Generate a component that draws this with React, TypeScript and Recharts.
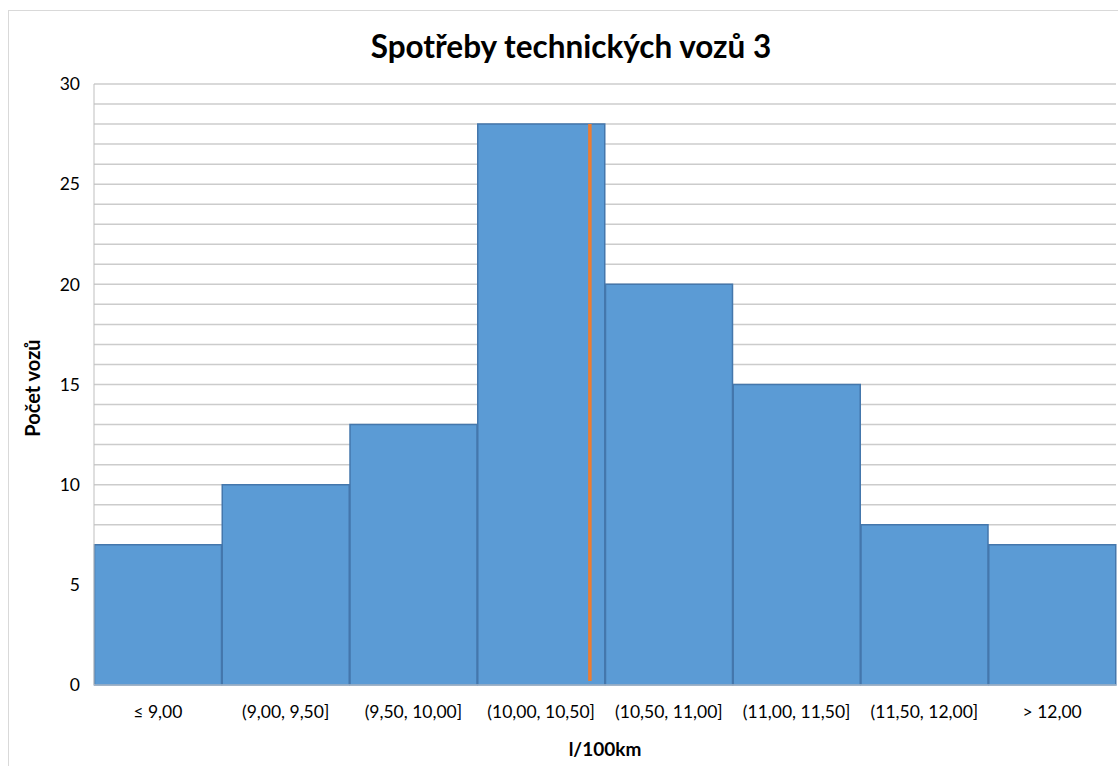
import React from 'react';
import { ComposedChart, Bar, XAxis, YAxis, CartesianGrid, Rectangle } from 'recharts';

const categories = ['≤ 9,00', '(9,00, 9,50]', '(9,50, 10,00]', '(10,00, 10,50]', '(10,50, 11,00]', '(11,00, 11,50]', '(11,50, 12,00]', '> 12,00'];
const counts = [7, 10, 13, 28, 20, 15, 8, 7];
const binStarts = [8.5, 9.0, 9.5, 10.0, 10.5, 11.0, 11.5, 12.0];
const binWidth = 0.5;
const yTicks = [0, 5, 10, 15, 20, 25, 30];
const gridValues = [0, 1, 2, 3, 4, 5, 6, 7, 8, 9, 10, 11, 12, 13, 14, 15, 16, 17, 18, 19, 20, 21, 22, 23, 24, 25, 26, 27, 28, 29, 30];
const meanValue = 10.44;

const data = categories.map((c, i) => ({ name: c, count: counts[i], start: binStarts[i] }));

const FONT = 'Lato, "Open Sans", sans-serif';

const BarShape = (props: any) => {
  const { x, y, width, height, payload } = props;
  const hasMean = meanValue > payload.start && meanValue <= payload.start + binWidth;
  const mx = x + ((meanValue - payload.start) / binWidth) * width;
  return (
    <g>
      <Rectangle x={x + 0.5} y={y} width={width - 1} height={height} fill="#5B9BD5" stroke="#4477AC" strokeWidth={1.5} />
      {hasMean && <line x1={mx} x2={mx} y1={y} y2={y + height - 4} stroke="#ED7D31" strokeWidth={3.5} />}
    </g>
  );
};

export default function App() {
  return (
    <div style={{ position: 'fixed', left: 0, top: 0, width: 1118, height: 766, overflow: 'hidden', background: '#fff' }}>
      <div style={{ position: 'absolute', left: 8, top: 10, width: 1140, height: 820, border: '1px solid #d9d9d9', boxSizing: 'border-box' }} />
      <div style={{ position: 'absolute', left: 0, top: 26, width: 1142, textAlign: 'center', fontFamily: FONT, fontWeight: 700, fontSize: 31.5, color: '#000', lineHeight: '40px' }}>
        Spotřeby technických vozů 3
      </div>
      <div style={{ position: 'absolute', left: 9, top: 11 }}>
        <ComposedChart width={1120} height={760} data={data} margin={{ top: 73, right: 13, bottom: 46, left: 0 }} barCategoryGap={0}>
          <CartesianGrid horizontal={true} vertical={false} horizontalValues={gridValues} stroke="#cccccc" strokeWidth={1.5} />
          <XAxis dataKey="name" type="category" height={40} tickLine={false} axisLine={{ stroke: '#d9d9d9' }} tickSize={6} tickMargin={15} tick={{ fill: '#000', fontSize: 17.5, fontFamily: FONT }} interval={0} />
          <YAxis domain={[0, 30]} ticks={yTicks} interval={0} width={85} tickLine={false} axisLine={{ stroke: '#bfbfbf' }} tickSize={6} tickMargin={8} tick={{ fill: '#000', fontSize: 17.5, fontFamily: FONT }} />
          <Bar dataKey="count" shape={BarShape} isAnimationActive={false} />
        </ComposedChart>
      </div>
      <div style={{ position: 'absolute', left: 32, top: 388, transform: 'translate(-50%, -50%) rotate(-90deg)', whiteSpace: 'nowrap', fontFamily: FONT, fontWeight: 700, fontSize: 20, color: '#000' }}>
        Počet vozů
      </div>
      <div style={{ position: 'absolute', left: 605, top: 748, transform: 'translate(-50%, -50%)', whiteSpace: 'nowrap', fontFamily: FONT, fontWeight: 700, fontSize: 19, color: '#000' }}>
        l/100km
      </div>
    </div>
  );
}
